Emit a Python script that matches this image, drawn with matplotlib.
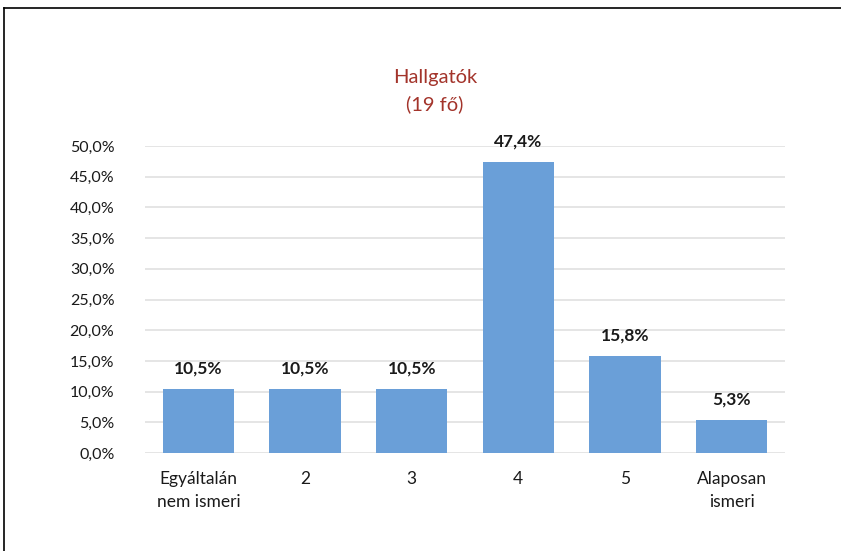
import matplotlib.pyplot as plt
from matplotlib.lines import Line2D

categories = ['Egyáltalán\nnem ismeri', '2', '3', '4', '5', 'Alaposan\nismeri']
values = [10.5, 10.5, 10.5, 47.4, 15.8, 5.3]
yticks = [0, 5, 10, 15, 20, 25, 30, 35, 40, 45, 50]

plt.rcParams['font.family'] = ['Lato', 'DejaVu Sans']

fig = plt.figure(figsize=(8.41, 5.51), dpi=100)
ax = fig.add_axes([145/841, 1-453/551, 640/841, 307/551])

x = range(len(categories))
ax.bar(x, values, width=0.67, color='#6a9fd8', zorder=3)
for xi, v in zip(x, values):
    ax.annotate(f'{v:.1f}%'.replace('.', ','), (xi, v), xytext=(0, 9),
                textcoords='offset points', ha='center', va='bottom',
                fontsize=12.5, fontweight='bold', color='#1a1a1a')

ax.set_xlim(-0.5, len(categories) - 0.5)
ax.set_ylim(0, 50)
ax.set_yticks(yticks)
ax.set_yticklabels([f'{t:.1f}%'.replace('.', ',') for t in yticks])
ax.set_xticks(list(x))
ax.set_xticklabels(categories, linespacing=1.55)
ax.tick_params(axis='both', length=0, labelsize=11.5, colors='#1a1a1a')
ax.tick_params(axis='x', labelsize=12.5, pad=13)
ax.tick_params(axis='y', pad=22)
ax.grid(axis='y', color='#e0e0e0', linewidth=1.2, zorder=0)
for s in ax.spines.values():
    s.set_visible(False)

fig.text(435/841, 1-77/551, 'Hallgatók', ha='center', va='center',
         fontsize=14.5, color='#a3342b')
fig.text(435/841, 1-104/551, '(19 fő)', ha='center', va='center',
         fontsize=14.5, color='#a3342b')

# frame lines (top and left)
fig.add_artist(Line2D([4/841, 1], [1-8/551, 1-8/551], color='black', linewidth=1.2,
                      transform=fig.transFigure))
fig.add_artist(Line2D([4/841, 4/841], [0, 1-8/551], color='black', linewidth=1.2,
                      transform=fig.transFigure))

fig.savefig('out.png', dpi=100)
